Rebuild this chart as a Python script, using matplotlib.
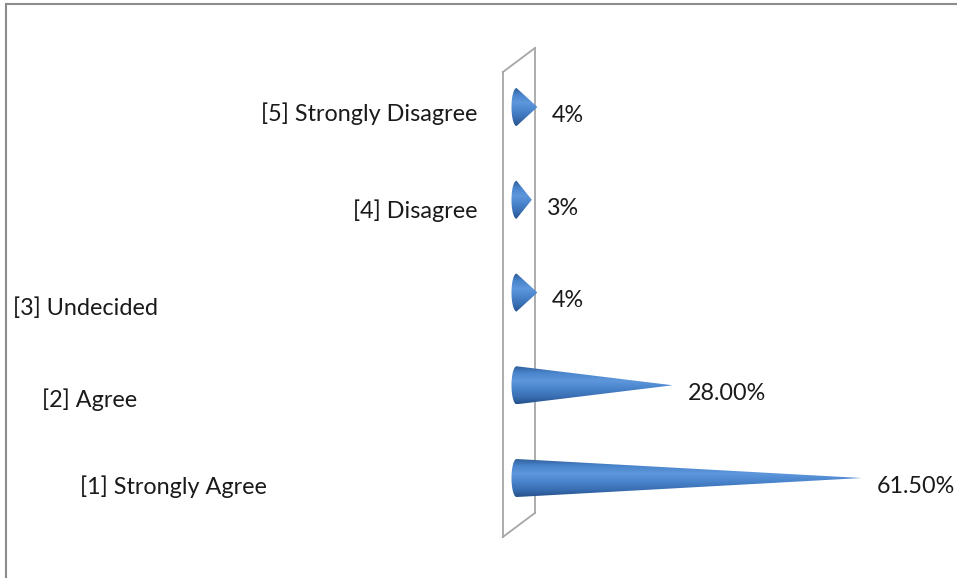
import numpy as np
import matplotlib.pyplot as plt
from matplotlib.path import Path
from matplotlib.patches import PathPatch
from matplotlib.colors import LinearSegmentedColormap
from matplotlib.lines import Line2D

plt.rcParams['font.family'] = ['Lato', 'DejaVu Sans']

categories = ['[1] Strongly Agree', '[2] Agree', '[3] Undecided',
              '[4] Disagree', '[5] Strongly Disagree']
values = [61.5, 28.0, 4, 3, 4]
decimals = [2, 2, 0, 0, 0]

# where each category label sits (Excel staggers them on 3D charts)
label_ha = ['left', 'left', 'left', 'right', 'right']
label_x = [-77.1, -83.9, -89.0, -6.6, -6.6]
label_dy = [-0.09, -0.16, -0.17, -0.12, -0.07]

fig = plt.figure(figsize=(9.57, 5.78), dpi=100)
ax = fig.add_axes([0, 0, 1, 1])
ax.set_xlim(-91.3, 78.4)
ax.set_ylim(-1.078, 5.154)
ax.axis('off')

# back wall of the 3D plot area
wall_col = '#a6a6a6'
ax.plot([-2.13, -2.13], [-0.636, 4.377], color=wall_col, lw=1.3, zorder=1)
ax.plot([3.55, 3.55], [-0.377, 4.636], color=wall_col, lw=1.3, zorder=1)
ax.plot([-2.13, 3.55], [4.377, 4.636], color=wall_col, lw=1.3, zorder=1)
ax.plot([-2.13, 3.55], [-0.636, -0.377], color=wall_col, lw=1.3, zorder=1)

cone_cmap = LinearSegmentedColormap.from_list(
    'cone', ['#2c5a94', '#4a84cc', '#5e97db', '#4a84cc', '#3a70b4', '#26518b'])
grad = np.linspace(0, 1, 256).reshape(-1, 1)

half_h = 0.205
cap_w = 0.9
fs = 16.8
for i, v in enumerate(values):
    y = i
    t = np.linspace(np.pi / 2, 3 * np.pi / 2, 40)
    cap = np.column_stack([cap_w * np.cos(t) + 0.3, y + half_h * np.sin(t)])
    verts = np.vstack([cap, [[v, y]], cap[:1]])
    codes = [Path.MOVETO] + [Path.LINETO] * (len(verts) - 2) + [Path.CLOSEPOLY]
    patch = PathPatch(Path(verts, codes), facecolor='none', edgecolor='none')
    ax.add_patch(patch)
    im = ax.imshow(grad, cmap=cone_cmap, aspect='auto', origin='upper',
                   extent=[-cap_w + 0.3, v, y - half_h, y + half_h], zorder=3)
    im.set_clip_path(patch)

    ax.text(v + 2.6, y - 0.09, f'{v:.{decimals[i]}f}%', fontsize=fs,
            va='center', ha='left', color='#1a1a1a', zorder=4)
    ax.text(label_x[i], y + label_dy[i], categories[i], fontsize=fs,
            va='center', ha=label_ha[i], color='#1a1a1a', zorder=4)

# chart border
fig.add_artist(Line2D([6 / 957, 1], [1 - 4 / 578, 1 - 4 / 578],
                      transform=fig.transFigure, color='#8c8c8c', lw=1.5))
fig.add_artist(Line2D([6 / 957, 6 / 957], [0, 1 - 4 / 578],
                      transform=fig.transFigure, color='#8c8c8c', lw=1.5))

fig.savefig('out.png', dpi=100)
